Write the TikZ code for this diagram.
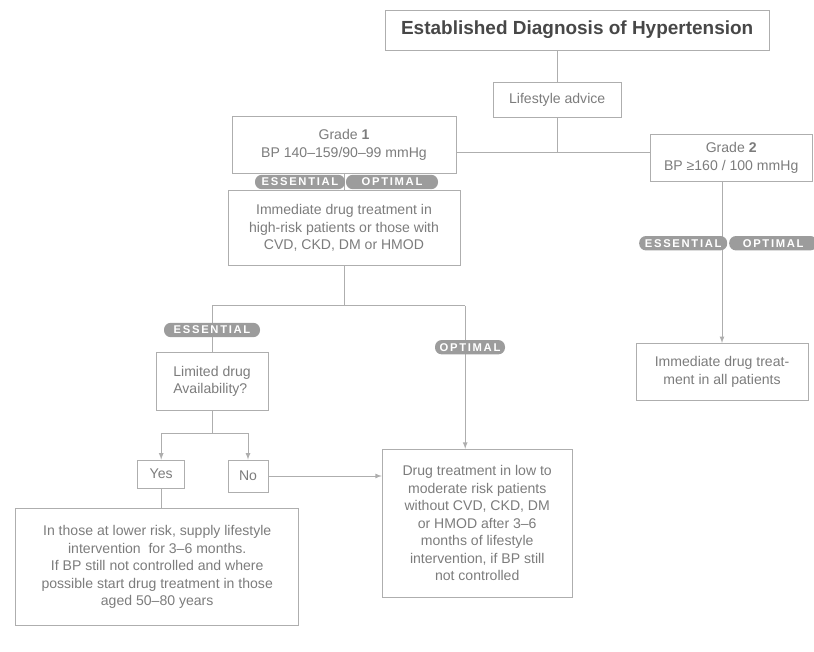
\documentclass[tikz,border=0pt]{standalone}
\usepackage{fontspec}
\setmainfont{Liberation Sans}
\newfontfamily\pillfont[LetterSpace=15]{Liberation Sans}
\usepackage{tikz}
\usetikzlibrary{calc}
\definecolor{inkgray}{HTML}{7C7C7C}
\definecolor{linegray}{HTML}{AEAEAE}
\definecolor{pillgray}{HTML}{9C9C9C}
\tikzset{
  box/.style={draw=linegray,line width=0.6pt,text=inkgray,align=center,inner sep=3pt,
    font=\fontsize{10}{12.5}\selectfont},
  pill/.style={fill=pillgray,text=white,rounded corners=0.17cm,minimum height=0.36cm,
    inner sep=1pt,font=\pillfont\bfseries\fontsize{8}{9}\selectfont},
}

\begin{document}
\begin{tikzpicture}[line width=0.6pt,>=latex]
  \useasboundingbox (0,0) rectangle (20.35,-16.275);

  \node[box,minimum width=9.6cm,minimum height=1cm,text=black!72,
    font=\bfseries\fontsize{13.5}{16}\selectfont] at (14.43,-0.75) (diag) {Established Diagnosis of Hypertension};
  \node[box,minimum width=3.2cm,minimum height=0.88cm] at (13.93,-2.5) (advice) {Lifestyle advice};
  \node[box,minimum width=5.6cm,minimum height=1.43cm] at (8.6,-3.62) (grade1) {Grade \textbf{1}\\BP 140--159/90--99 mmHg};
  \node[box,minimum width=4.05cm,minimum height=1.18cm] at (18.28,-3.95) (grade2) {Grade \textbf{2}\\BP ≥160 / 100 mmHg};
  \node[box,minimum width=5.8cm,minimum height=1.88cm] at (8.6,-5.7) (imm1) {Immediate drug treatment in\\high-risk patients or those with\\CVD, CKD, DM or HMOD};
  \node[box,minimum width=4.3cm,minimum height=1.43cm] at (18.05,-9.3) (imm2) {Immediate drug treat-\\ment in all patients};

  % left branch
  \node[box,align=left,minimum width=2.8cm,minimum height=1.45cm] at (5.3,-9.53) (limited) {Limited drug\\Availability?};
  \node[box,minimum width=1.18cm,minimum height=0.7cm] at (4.03,-11.85) (yes) {Yes};
  \node[box,minimum width=1cm,minimum height=0.8cm] at (6.2,-11.9) (no) {No};
  \node[box,minimum width=7.08cm,minimum height=2.93cm] at (3.93,-14.18) (lowrisk) {In those at lower risk, supply lifestyle\\intervention \ for 3--6 months.\\If BP still not controlled and where\\possible start drug treatment in those\\aged 50--80 years};
  \node[box,minimum width=4.75cm,minimum height=3.7cm] at (11.93,-13.08) (drug) {Drug treatment in low to\\moderate risk patients\\without CVD, CKD, DM\\or HMOD after 3--6\\months of lifestyle\\intervention, if BP still\\not controlled};

  \coordinate (split1) at ([yshift=-0.86cm]advice.south);
  \coordinate (split2) at ([yshift=-0.99cm]imm1.south);
  \coordinate (split3) at ([yshift=-0.57cm]limited.south);
  \coordinate (drugin) at ([xshift=-0.3cm]drug.north);

  \draw[linegray] (diag.south -| advice.north) -- (advice.north);
  \draw[linegray] (advice.south) -- (split1);
  \draw[linegray] (grade1.east |- split1) -- (grade2.west |- split1);
  \draw[linegray] (grade1.south) -- (imm1.north);
  \draw[linegray,->] (imm2.north |- grade2.south) -- (imm2.north);

  \draw[linegray] (imm1.south) -- (split2);
  \draw[linegray] (limited.north |- split2) -- (drugin |- split2);
  \draw[linegray] (limited.north |- split2) -- (limited.north);
  \draw[linegray,->] (drugin |- split2) -- (drugin);

  \draw[linegray] (limited.south) -- (split3);
  \draw[linegray] (yes.north |- split3) -- (no.north |- split3);
  \draw[linegray,->] (yes.north |- split3) -- (yes.north);
  \draw[linegray,->] (no.north |- split3) -- (no.north);
  \draw[linegray] (yes.south) -- (yes.south |- lowrisk.north);
  \draw[linegray,->] (no.east) -- (no.east -| drug.west);

  % badges over the lines
  \node[pill,minimum width=2.25cm] at (7.5,-4.55) (ess1) {ESSENTIAL};
  \node[pill,minimum width=2.3cm] at ([xshift=2.3cm]ess1) (opt1) {OPTIMAL};
  \node[pill,minimum width=2.2cm] at (17.08,-6.08) (ess2) {ESSENTIAL};
  \node[pill,minimum width=2.2cm] at ([xshift=2.25cm]ess2) (opt2) {OPTIMAL};
  \node[pill,minimum width=2.4cm] at (5.3,-8.25) (ess3) {ESSENTIAL};
  \node[pill,minimum width=1.75cm] at (11.75,-8.68) (opt3) {OPTIMAL};
\end{tikzpicture}
\end{document}
